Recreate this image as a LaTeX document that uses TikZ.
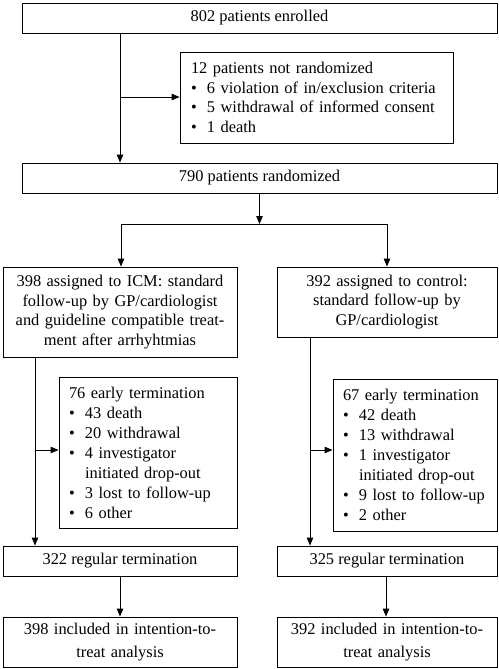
\documentclass[tikz,border=0pt]{standalone}
\usepackage{fontspec}
\setmainfont{Liberation Serif}
\usetikzlibrary{arrows.meta}
\newcommand{\itm}[1]{\makebox[16pt][l]{\textbullet}#1}
\newcommand{\cnt}[1]{\hspace*{16pt}#1}
\begin{document}
\begin{tikzpicture}[x=1pt,y=-1pt,
  box/.style={draw,line width=0.9pt,inner sep=0pt,font=\fontsize{16.4}{19.6}\selectfont},
  lbox/.style={box,align=left},
  cbox/.style={box,align=center},
  arr/.style={line width=0.9pt,-{Triangle[length=8pt,width=6.5pt]}},
  ln/.style={line width=0.9pt}]
\useasboundingbox (0,0) rectangle (498,669);
\node[cbox,minimum width=475pt,minimum height=30pt] (enr) at (259.5,18) {802 patients enrolled};
\node[lbox,minimum width=273pt,minimum height=91pt,text width=251pt] (notr) at (316.5,97.5)
 {12 patients not randomized\\ \itm{6 violation of in/exclusion criteria}\\ \itm{5 withdrawal of informed consent}\\ \itm{1 death}};
\node[cbox,minimum width=475pt,minimum height=30pt] (rand) at (259.5,178) {790 patients randomized};
\node[cbox,minimum width=234pt,minimum height=90pt,text width=224pt] (icm) at (120,312)
 {398 assigned to ICM: standard\\ follow-up by GP/cardiologist\\ and guideline compatible treat-\\ ment after arrhyhtmias};
\node[cbox,minimum width=220pt,minimum height=70pt,text width=210pt] (ctl) at (387,302)
 {392 assigned to control:\\ standard follow-up by\\ GP/cardiologist};
\node[lbox,minimum width=178pt,minimum height=151pt,text width=158pt,font=\fontsize{16.4}{20}\selectfont] (e1) at (148,452.5)
 {76 early termination\\ \itm{43 death}\\ \itm{20 withdrawal}\\ \itm{4 investigator}\\ \cnt{initiated drop-out}\\ \itm{3 lost to follow-up}\\ \itm{6 other}};
\node[lbox,minimum width=164pt,minimum height=152pt,text width=144pt,font=\fontsize{16.4}{20}\selectfont] (e2) at (415,455)
 {67 early termination\\ \itm{42 death}\\ \itm{13 withdrawal}\\ \itm{1 investigator}\\ \cnt{initiated drop-out}\\ \itm{9 lost to follow-up}\\ \itm{2 other}};
\node[cbox,minimum width=234pt,minimum height=30pt] (r1) at (120,561) {322 regular termination};
\node[cbox,minimum width=220pt,minimum height=30pt] (r2) at (387,561) {325 regular termination};
\node[cbox,minimum width=234pt,minimum height=50pt,text width=224pt,font=\fontsize{16.4}{23}\selectfont] (t1) at (120,642)
 {398 included in intention-to-\\ treat analysis};
\node[cbox,minimum width=220pt,minimum height=50pt,text width=210pt,font=\fontsize{16.4}{23}\selectfont] (t2) at (387,642)
 {392 included in intention-to-\\ treat analysis};
% connectors
\coordinate (c1) at (120,97);
\draw[arr] (enr.south -| c1) -- (rand.north -| c1);
\draw[arr] (c1) -- (c1 -| notr.west);
\coordinate (sp) at (259.5,224);
\coordinate (sl) at (121,224);
\coordinate (sr) at (387,224);
\draw[arr] (rand.south) -- (sp);
\draw[ln] (sl) -- (sr);
\draw[arr] (sl) -- (sl |- icm.north);
\draw[arr] (sr) -- (sr |- ctl.north);
\coordinate (lb) at (35,450);
\coordinate (rb) at (310,450);
\draw[arr] (icm.south -| lb) -- (r1.north -| lb);
\draw[arr] (lb) -- (lb -| e1.west);
\draw[arr] (ctl.south -| rb) -- (r2.north -| rb);
\draw[arr] (rb) -- (rb -| e2.west);
\draw[arr] (r1.south) -- (t1.north);
\draw[arr] (r2.south -| 386,0) -- (t2.north -| 386,0);
\end{tikzpicture}
\end{document}
